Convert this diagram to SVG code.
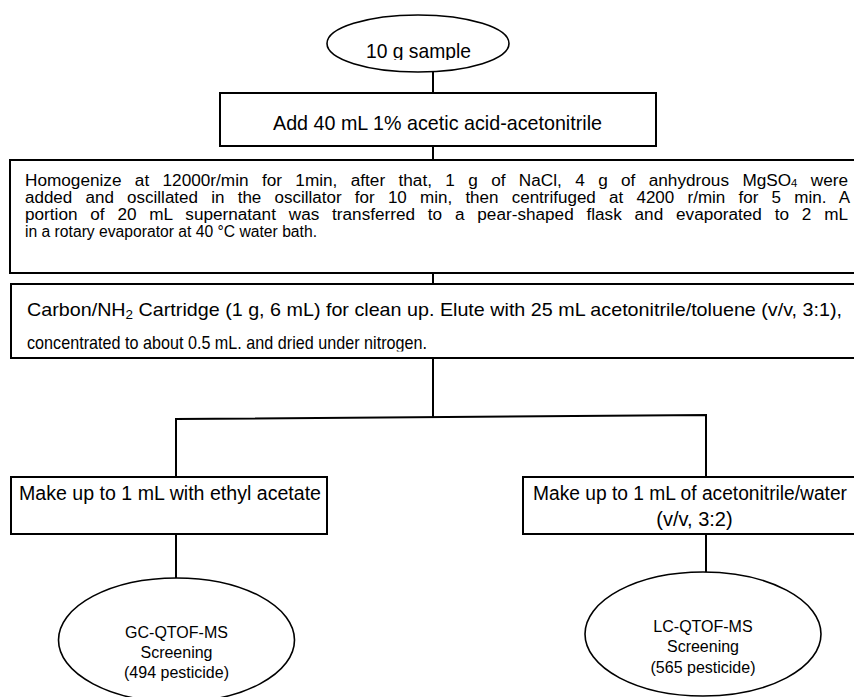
<svg xmlns="http://www.w3.org/2000/svg" width="854" height="697" viewBox="0 0 854 697">
<style>
.box{fill:#fff;stroke:#000;stroke-width:2}
.ell{fill:#fff;stroke:#000;stroke-width:1.6}
.con{fill:none;stroke:#000;stroke-width:2}
text{font-family:"Liberation Sans",Arial,sans-serif;fill:#000}
.t3{font-size:16px}
</style>
<defs>
<clipPath id="c1"><rect x="0" y="0" width="854" height="60"/></clipPath>
<clipPath id="c4"><rect x="0" y="0" width="854" height="351.5"/></clipPath>
</defs>
<g id="connectors">
<path class="con" d="M433 72V93M433 146V160M433 273V284M433 358V417"/>
<path class="con" d="M176 477V419L706 415V477"/>
<path class="con" d="M176 534V578M706 534V572"/>
</g>
<g id="n1">
<ellipse class="ell" cx="418" cy="43.5" rx="91" ry="28.5"/>
<text x="418.5" y="58" font-size="21" text-anchor="middle" textLength="105" lengthAdjust="spacingAndGlyphs" clip-path="url(#c1)">10 g sample</text>
</g>
<g id="n2">
<rect class="box" x="220" y="93" width="436" height="53"/>
<text x="273" y="130" font-size="21" textLength="329" lengthAdjust="spacingAndGlyphs">Add 40 mL 1% acetic acid-acetonitrile</text>
</g>
<g id="n3">
<rect class="box" x="10" y="160" width="860" height="113"/>
<text class="t3" x="25" y="186" word-spacing="8" textLength="823" lengthAdjust="spacingAndGlyphs">Homogenize at 12000r/min for 1min, after that, 1 g of NaCl, 4 g of anhydrous MgSO<tspan font-size="10.5" dy="1">4</tspan><tspan dy="-1"> were</tspan></text>
<text class="t3" x="25" y="203" word-spacing="8" textLength="825" lengthAdjust="spacingAndGlyphs">added and oscillated in the oscillator for 10 min, then centrifuged at 4200 r/min for 5 min. A</text>
<text class="t3" x="25" y="220" word-spacing="7.5" textLength="823" lengthAdjust="spacingAndGlyphs">portion of 20 mL supernatant was transferred to a pear-shaped flask and evaporated to 2 mL</text>
<text class="t3" x="25" y="237" textLength="292" lengthAdjust="spacingAndGlyphs">in a rotary evaporator at 40 °C water bath.</text>
</g>
<g id="n4">
<rect class="box" x="11" y="284" width="860" height="74"/>
<text x="27" y="316" font-size="19" textLength="815" lengthAdjust="spacingAndGlyphs">Carbon/NH<tspan font-size="13" dy="3">2</tspan><tspan dy="-3"> Cartridge (1 g, 6 mL) for clean up. Elute with 25 mL acetonitrile/toluene (v/v, 3:1),</tspan></text>
<text x="27" y="349" font-size="19" textLength="400" lengthAdjust="spacingAndGlyphs" clip-path="url(#c4)">concentrated to about 0.5 mL. and dried under nitrogen.</text>
</g>
<g id="n5">
<rect class="box" x="11" y="477" width="316" height="57"/>
<text x="19" y="500" font-size="20" textLength="302" lengthAdjust="spacingAndGlyphs">Make up to 1 mL with ethyl acetate</text>
</g>
<g id="n6">
<rect class="box" x="523" y="477" width="340" height="57"/>
<text x="533" y="500" font-size="20" textLength="314" lengthAdjust="spacingAndGlyphs">Make up to 1 mL of acetonitrile/water</text>
<text x="694.5" y="526" font-size="20" text-anchor="middle">(v/v, 3:2)</text>
</g>
<g id="n7">
<ellipse class="ell" cx="176.5" cy="640" rx="118" ry="62"/>
<text x="176.5" y="638" font-size="16" text-anchor="middle">GC-QTOF-MS</text>
<text x="176.5" y="658" font-size="16" text-anchor="middle">Screening</text>
<text x="176.5" y="678" font-size="16" text-anchor="middle">(494 pesticide)</text>
</g>
<g id="n8">
<ellipse class="ell" cx="703" cy="634" rx="118" ry="62"/>
<text x="703" y="632" font-size="16" text-anchor="middle">LC-QTOF-MS</text>
<text x="703" y="652" font-size="16" text-anchor="middle">Screening</text>
<text x="703" y="673" font-size="16" text-anchor="middle">(565 pesticide)</text>
</g>
</svg>
